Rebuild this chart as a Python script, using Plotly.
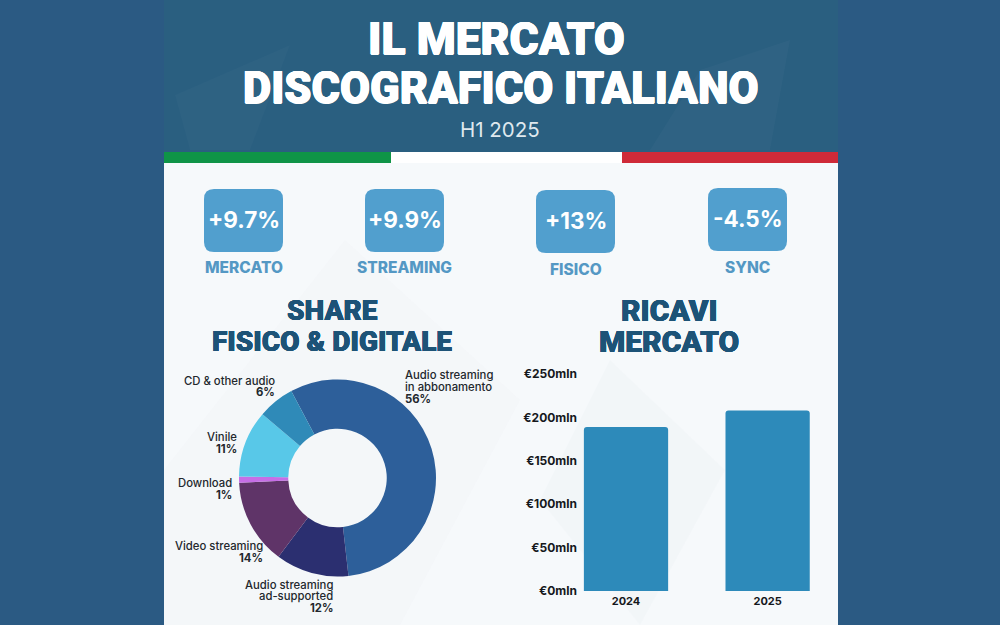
import plotly.graph_objects as go

# Data
donut_labels = [["Audio streaming", "in abbonamento"], ["Audio streaming", "ad-supported"], ["Video streaming"], ["Download"], ["Vinile"], ["CD &amp; other audio"]]
donut_values = [56, 12, 14, 1, 11, 6]
donut_colors = ["#2d5f9a", "#2b2f70", "#5f3468", "#c66ee6", "#58c8e8", "#2f8ab8"]
years = ["2024", "2025"]
revenues = [189, 208]
y_ticks = [0, 50, 100, 150, 200, 250]
y_tick_labels = ["€0mln", "€50mln", "€100mln", "€150mln", "€200mln", "€250mln"]
kpi_values = ["+9.7%", "+9.9%", "+13%", "-4.5%"]
kpi_names = ["MERCATO", "STREAMING", "FISICO", "SYNC"]
title_lines = ["IL MERCATO", "DISCOGRAFICO ITALIANO"]
subtitle = "H1 2025"

W, H = 1000, 625
BODY = "Inter"
HEAD = "Roboto"
NAVY = "#1d5377"
KPI = "#519fce"
KPI_TXT = "#5498c4"


def px(x): return x / W
def py(y): return 1 - y / H


def rrect(x0, y0, x1, y1, r):
    X0, X1 = px(x0), px(x1)
    Y0, Y1 = py(y0), py(y1)
    rx, ry = r / W, r / H
    return (f"M{X0+rx},{Y0} L{X1-rx},{Y0} Q{X1},{Y0} {X1},{Y0-ry} L{X1},{Y1+ry} Q{X1},{Y1} {X1-rx},{Y1} "
            f"L{X0+rx},{Y1} Q{X0},{Y1} {X0},{Y1+ry} L{X0},{Y0-ry} Q{X0},{Y0} {X0+rx},{Y0} Z")


def rect(x0, y0, x1, y1, color):
    return dict(type="rect", xref="paper", yref="paper", x0=px(x0), x1=px(x1), y0=py(y0), y1=py(y1),
                fillcolor=color, line_width=0, layer="below")


def poly(pts, color, op):
    d = "M" + " L".join(f"{px(a)},{py(b)}" for a, b in pts) + " Z"
    return dict(type="path", xref="paper", yref="paper", path=d, fillcolor=color, opacity=op, line_width=0, layer="below")


shapes = [
    rect(164, 0, 838, 152, "#2a5f80"),
    rect(164, 163, 838, 625, "#f6f9fb"),
    rect(164, 152, 391, 163, "#0f9447"),
    rect(391, 152, 622, 163, "#ffffff"),
    rect(622, 152, 838, 163, "#cf2a38"),
    # faint background facets
    poly([(175, 95), (290, 45), (250, 150), (190, 150)], "#ffffff", 0.02),
    poly([(700, 70), (790, 40), (770, 150), (650, 150)], "#ffffff", 0.025),
    poly([(164, 470), (345, 240), (520, 400), (400, 625), (164, 625)], "#e9eef2", 0.15),
    poly([(610, 360), (725, 470), (640, 625), (540, 500)], "#e6ebef", 0.2),
]

kpi_boxes = [(204, 189, 283, 252), (365, 189, 444, 252), (536, 190, 615, 253), (708, 188, 787, 251)]
label_centers = [(243.5, 267), (404.5, 267), (576, 269), (747, 267)]
for b in kpi_boxes:
    shapes.append(dict(type="path", xref="paper", yref="paper", path=rrect(*b, 10), fillcolor=KPI, line_width=0, layer="below"))

ann = []


def text(x, y, t, size, color, family=BODY, anchor="center", weight=None, shadow=None):
    f = dict(size=size, color=color, family=family)
    if weight:
        f["weight"] = weight
    if shadow:
        f["shadow"] = shadow
    ann.append(dict(x=px(x), y=py(y), xref="paper", yref="paper", text=t, showarrow=False,
                    xanchor=anchor, yanchor="middle", align=anchor if anchor != "center" else "center", font=f))


def fat(c, w=0.5):
    return f"{w}px 0 0 {c}, -{w}px 0 0 {c}, 0 {w}px 0 {c}, 0 -{w}px 0 {c}"


text(496.5, 39, title_lines[0], 44.5, "#ffffff", HEAD, weight=900, shadow=fat("#ffffff"))
text(500.5, 89, title_lines[1], 43.5, "#ffffff", HEAD, weight=900, shadow=fat("#ffffff"))
text(500.5, 130, subtitle, 20.5, "#dfe8ee", BODY, weight=400)

for b, v in zip(kpi_boxes, kpi_values):
    text((b[0] + b[2]) / 2, (b[1] + b[3]) / 2 - 1, v, 22.5, "#ffffff", BODY, weight=700)
for c, n in zip(label_centers, kpi_names):
    text(c[0], c[1], n, 15.5, KPI_TXT, BODY, weight=800)

text(332, 310, "SHARE", 28, NAVY, HEAD, weight=900, shadow=fat(NAVY, 0.3))
text(332, 341, "FISICO &amp; DIGITALE", 28, NAVY, HEAD, weight=900, shadow=fat(NAVY, 0.3))
text(669, 310, "RICAVI", 30, NAVY, HEAD, weight=900, shadow=fat(NAVY, 0.3))
text(669, 341, "MERCATO", 30, NAVY, HEAD, weight=900, shadow=fat(NAVY, 0.3))

# donut labels (outer edge, centre y of the block)
LBL = "#23282d"
donut_label_pos = [(402.5, 387, "left"), (335, 596.3, "right"), (264.5, 551.7, "right"), (234, 488.7, "right"), (239, 442.7, "right"), (277, 386.5, "right")]
LINE = 11.6
for (x, y, a), lab, val in zip(donut_label_pos, donut_labels, donut_values):
    lines = lab + [f"<b>{val}%</b>"]
    for i, line in enumerate(lines):
        text(x, y + (i - (len(lines) - 1) / 2) * LINE, line, 11.3, LBL, BODY, anchor=a, weight=500)

fig = go.Figure()
cx, cy, r = 337.5, 478, 98.5
fig.add_trace(go.Pie(
    labels=[" ".join(l) for l in donut_labels], values=donut_values, hole=0.5, sort=False, direction="clockwise", rotation=-28,
    marker=dict(colors=donut_colors, line=dict(width=0)), textinfo="none", showlegend=False,
    domain=dict(x=[px(cx - r), px(cx + r)], y=[py(cy + r), py(cy - r)]),
))
fig.add_trace(go.Bar(x=years, y=revenues, marker=dict(color="#2d8aba", line=dict(width=0)), showlegend=False))

fig.update_layout(
    width=W, height=H, autosize=False,
    margin=dict(l=0, r=0, t=0, b=0, autoexpand=False),
    paper_bgcolor="#2b5a83", plot_bgcolor="rgba(0,0,0,0)",
    shapes=shapes, annotations=ann, bargap=0.405, barcornerradius=3,
    xaxis=dict(domain=[px(578), px(838)], range=[-0.339, 1.497], type="category", showgrid=False, zeroline=False,
               showline=False, ticks="", ticklabelstandoff=2, tickfont=dict(size=11, family=BODY, color="#15181c", weight=700)),
    yaxis=dict(domain=[py(591), py(374)], range=[0, 250], tickvals=y_ticks, ticktext=y_tick_labels, showgrid=False,
               zeroline=False, showline=False, ticks="", ticklen=0,
               tickfont=dict(size=12, family=BODY, color="#15181c", weight=700)),
)
fig.write_html("out.html", config=dict(displayModeBar=False),
               post_script="document.documentElement.style.margin='0';document.body.style.margin='0';document.body.style.overflow='hidden';")
